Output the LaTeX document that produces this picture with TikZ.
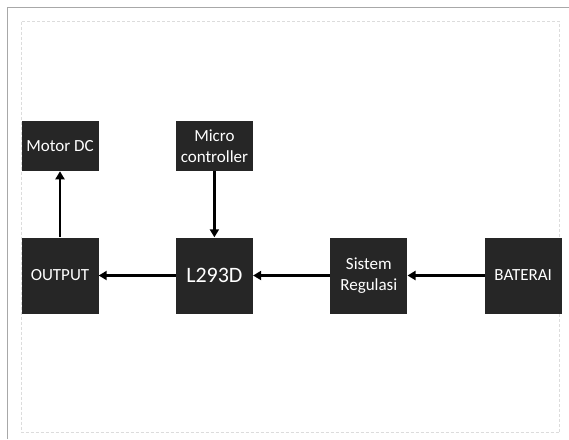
\documentclass[tikz,border=0pt]{standalone}
\usepackage{fontspec}
\setmainfont{Carlito}
\usetikzlibrary{positioning,arrows.meta}
\definecolor{blockfill}{HTML}{262626}
\definecolor{framegray}{HTML}{A8A8A8}
\definecolor{pagegray}{HTML}{DCDCDC}
\begin{document}
\begin{tikzpicture}[x=1pt, y=1pt, node distance=77pt,
    block/.style={fill=blockfill, text=white, minimum width=77pt, align=center, inner sep=1pt, font=\fontsize{17}{21}\selectfont},
    flow/.style={-{Triangle[length=8pt, width=9pt]}, line width=2.6pt}]
        \useasboundingbox (0,0) rectangle (569,-439);
        % Page frame
        \draw[framegray, line width=1.2pt] (7.5,-439) -- (7.5,-7.5) -- (569,-7.5);
        \draw[pagegray, densely dashed, line width=0.8pt] (21.5,-21.5) rectangle (559.5,-432.5);
        
        % Main row
        \node (out) [block, minimum height=76pt] at (60,-275.5) {OUTPUT};
        \node (drv) [block, minimum height=76pt, right=of out, font=\fontsize{22}{25}\selectfont] {L293D};
        \node (reg) [block, minimum height=76pt, right=of drv] {Sistem\\Regulasi};
        \node (bat) [block, minimum height=76pt, right=of reg] {BATERAI};
        
        % Upper row
        \node (motor) [block, minimum height=50pt, above=66pt of out] {Motor DC};
        \node (mcu) [block, minimum height=50pt, above=66pt of drv] {Micro\\controller};
        
        % Connections
        \draw[flow] (bat) -- (reg);
        \draw[flow] (reg) -- (drv);
        \draw[flow] (drv) -- (out);
        \draw[flow] (out) -- (motor);
        \draw[flow] (mcu) -- (drv);
        
    \end{tikzpicture}
\end{document}
